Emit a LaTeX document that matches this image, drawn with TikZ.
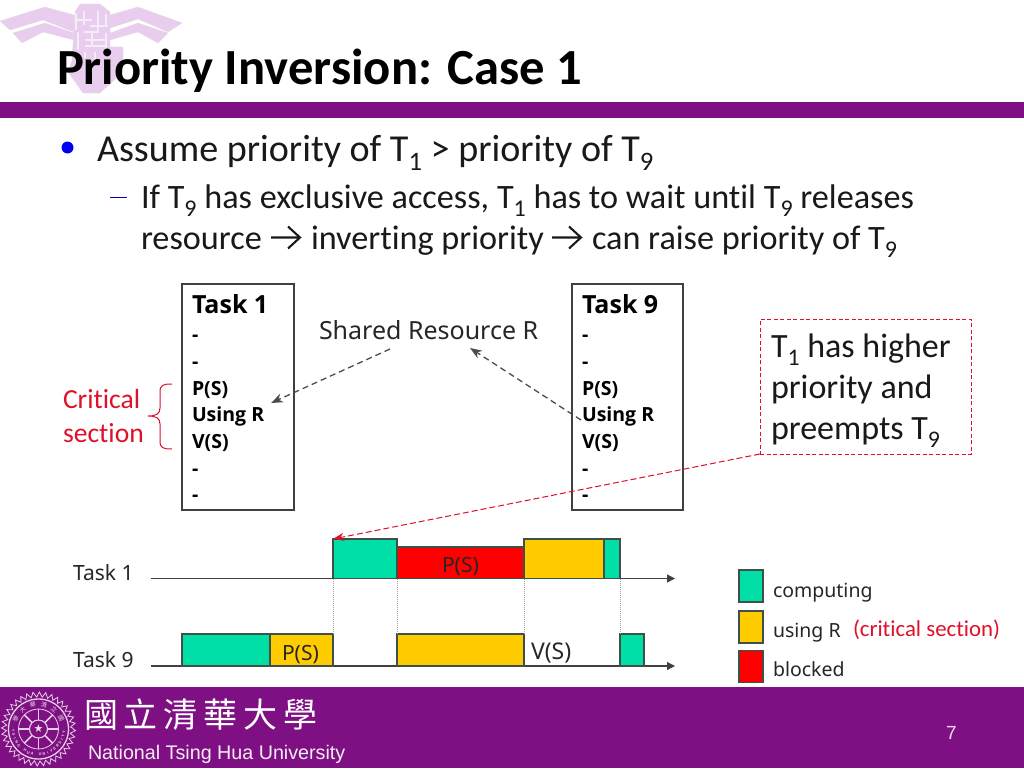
\documentclass[tikz,border=0pt]{standalone}
\usepackage{fontspec}
\setmainfont{Carlito}[Ligatures=NoCommon]
\newfontfamily\figfont{Noto Sans}
\newfontfamily\figbold{Open Sans}
\newfontfamily\arialfont{Liberation Sans}
\newfontfamily\cjkfont{Noto Sans CJK TC}
\newfontfamily\symfont{DejaVu Sans}
\usetikzlibrary{arrows.meta,decorations.pathmorphing}
\definecolor{nthu}{HTML}{7F1083}
\definecolor{logopink}{HTML}{E8CDEE}
\definecolor{compgreen}{HTML}{00E0A6}
\definecolor{useyellow}{HTML}{FFCC00}
\definecolor{blockred}{HTML}{FF0000}
\definecolor{edge}{HTML}{3F4F4A}
\definecolor{tipred}{HTML}{E0102A}
\newcommand{\sbs}[1]{\raisebox{-0.24em}{\scalebox{0.7}{#1}}}
\tikzset{
  x=1pt,y=-1pt,
  txt/.style={anchor=base west,inner sep=0,outer sep=0,text=black},
  titletext/.style={txt,font=\fontsize{50.6}{54}\selectfont\bfseries},
  lvlone/.style={txt,font=\fontsize{38.1}{40}\selectfont,text=black!90},
  lvltwo/.style={txt,font=\fontsize{34.2}{36}\selectfont,text=black!90},
  redtext/.style={txt,font=\fontsize{27.6}{30}\selectfont,text=tipred},
  tiptext/.style={txt,font=\fontsize{34}{36}\selectfont,text=black!90},
  codetext/.style={txt,font=\figbold\fontsize{19.5}{24}\selectfont\bfseries},
  figtext/.style={txt,font=\figfont\fontsize{21}{24}\selectfont,text=black!85},
  legendtext/.style={figtext,font=\figfont\fontsize{19.5}{24}\selectfont},
  taskbox/.style={draw=black!75,line width=1.4pt,fill=white,anchor=north west,inner sep=0,outer sep=0,minimum width=112,minimum height=226},
  blk/.style={draw=edge,line width=1.1pt,anchor=south west,inner sep=0,outer sep=0},
  grn/.style={blk,fill=compgreen},
  yel/.style={blk,fill=useyellow},
  rdd/.style={blk,fill=blockred},
  axisline/.style={draw=black!75,line width=1.2pt,-{Triangle[length=8pt,width=8pt]}},
  guide/.style={draw=black!35,line width=1pt,densely dotted},
  dasharrow/.style={draw=black!70,line width=1.3pt,dash pattern=on 6pt off 4pt,-{Stealth[length=12pt,width=9pt]}},
  reddash/.style={draw=tipred,line width=1pt,dash pattern=on 6pt off 3pt},
  thinarrow/.style={draw=black!90,line width=2.1pt},
  seal/.style={draw=white!80!nthu,line width=0.8pt},
  sealtext/.style={inner sep=0,outer sep=0,text=white!85!nthu},
}
\begin{document}
\begin{tikzpicture}
\useasboundingbox (0,0) rectangle (1024,768);
\fill[white] (0,0) rectangle (1024,768);
% logo
\fill[logopink,draw=black!12,line width=.3pt]
 (0,21) -- (45,7) -- (74,15) -- (74,32) -- (43,20) -- (10,30) -- cycle
 (13,33) -- (45,23) -- (74,33) -- (74,40) -- (43,32) -- (22,43) -- cycle
 (110,15) -- (138,7) -- (182,23) -- (168,32) -- (138,19) -- (110,28) -- cycle
 (110,33) -- (138,23) -- (168,33) -- (158,43) -- (138,32) -- (110,40) -- cycle
 (75,12) -- (80,4) -- (100,4) -- (110,12) -- (110,47) -- (123,47) -- (123,72) -- (100,93) -- (83,93) -- (68,72) -- (72,60) -- cycle;
\draw[white!60!logopink,line width=2.4pt]
 (76,13) -- (76,30) (84,11) -- (84,25) (76,20) -- (92,20) (98,11) -- (98,32) -- (84,32)
 (106,14) -- (106,26) (90,26) -- (108,26)
 (78,32) -- (78,50) (85,40) -- (106,40) (92,32) -- (92,46) (85,46) -- (106,46) (106,33) -- (106,54)
 (85,52) -- (85,58) (95,52) -- (95,60);
% title bar and footer
\fill[nthu] (0,102) rectangle (1024,118);
\fill[nthu] (0,687) rectangle (1024,768);
\node[titletext] (title) at (57,84) {Priority Inversion: Case 1};
% bullets
\node[circle,fill=blue!95!black,inner sep=0,minimum size=12,outer sep=0] (bul) at (67.5,147.5) {};
\node[lvlone] (l1) at (97,161) {Assume priority of T\sbs{1} > priority of T\sbs{9}};
\coordinate (da) at (110,197.5);
\coordinate (db) at (127,197.5);
\draw[blue!70!black,line width=1.3pt] (da) -- (db);
\node[lvltwo] (l2) at (141,208) {If T\sbs{9} has exclusive access, T\sbs{1} has to wait until T\sbs{9} releases};
\node[lvltwo] (l3a) at (141,249) {resource};
\node[lvltwo] (l3b) at (311,249) {inverting priority};
\node[lvltwo] (l3c) at (592,249) {can raise priority of T\sbs{9}};
% inline arrows
\draw[thinarrow] (271,237.5) -- (300,237.5) (288,226.5) -- (300,237.5) -- (288,248.5);
\draw[thinarrow] (552,237.5) -- (581,237.5) (569,226.5) -- (581,237.5) -- (569,248.5);
% task boxes
\node[taskbox] (boxa) at (182,284) {};
\node[taskbox,minimum width=111] (boxb) at (572,284) {};
\foreach \nm/\bx in {a/192,b/582}{
  \node[codetext] (dash1\nm) at (\bx,341) {-};
  \node[codetext] (dash2\nm) at (\bx,368) {-};
  \node[codetext] (ps\nm) at (\bx,395) {P(S)};
  \node[codetext] (use\nm) at (\bx,421) {Using R};
  \node[codetext] (vs\nm) at (\bx,448) {V(S)};
  \node[codetext] (dash3\nm) at (\bx,475) {-};
  \node[codetext] (dash4\nm) at (\bx,501) {-};
}
\node[codetext,font=\figbold\fontsize{25}{26}\selectfont\bfseries] (ta) at (192,313) {Task 1};
\node[codetext,font=\figbold\fontsize{25}{26}\selectfont\bfseries] (tb) at (582,313) {Task 9};
\node[figtext,font=\figfont\fontsize{25}{26}\selectfont] (shared) at (319,339) {Shared Resource R};
\coordinate (sa) at (390,349);
\coordinate (sb) at (581,420);
\coordinate (sta) at (271,403);
\coordinate (stb) at (470,348);
\draw[dasharrow] (sa) -- (sta);
\draw[dasharrow] (sb) -- (stb);
% critical section
\node[redtext] (crit) at (63,408) {Critical};
\node[redtext] (sect) at (63,442) {section};
\draw[tipred,line width=1pt] (172,384) .. controls (163,384) and (160,385) .. (160,392) -- (160,408) .. controls (160,414) and (156,416) .. (148,416) .. controls (156,416) and (160,418) .. (160,424) -- (160,441) .. controls (160,448) and (163,449) .. (172,449);
% tip box
\node[draw=tipred,line width=1pt,dash pattern=on 4pt off 2.5pt,anchor=north west,inner sep=0,outer sep=0,minimum width=211,minimum height=135] (tip) at (760,319) {};
\node[tiptext] (tip1) at (771,357) {T\sbs{1} has higher};
\node[tiptext] (tip2) at (771,398) {priority and};
\node[tiptext] (tip3) at (771,439) {preempts T\sbs{9}};
% gantt
\coordinate (a0) at (151,578.5);
\coordinate (a1) at (675,578.5);
\coordinate (b0) at (151,666);
\coordinate (b1) at (675,666);
\draw[axisline] (a0) -- (a1);
\draw[axisline] (b0) -- (b1);
\node[figtext] (la) at (73,580) {Task 1};
\node[figtext] (lb) at (73,667) {Task 9};
\node[grn,minimum width=64,minimum height=39.5] (a1g) at (333,578.5) {};
\node[rdd,minimum width=127,minimum height=31.5] (a2r) at (397,578.5) {};
\node[yel,minimum width=80,minimum height=39.5] (a3y) at (524,578.5) {};
\node[grn,minimum width=16,minimum height=39.5] (a4g) at (604,578.5) {};
\node[grn,minimum width=88,minimum height=32] (b1g) at (182,666) {};
\node[yel,minimum width=63,minimum height=32] (b2y) at (270,666) {};
\node[yel,minimum width=127,minimum height=32] (b3y) at (397,666) {};
\node[grn,minimum width=24,minimum height=32] (b4g) at (620,666) {};
\node[figtext] (psr) at (442,572) {P(S)};
\node[figtext] (psy) at (282,660) {P(S)};
\node[figtext,font=\figfont\fontsize{23}{24}\selectfont] (vsb) at (531,659) {V(S)};
\draw[guide] (a1g.south west) -- (b2y.north east);
\draw[guide] (a1g.south east) -- (b3y.north west);
\draw[guide] (a3y.south west) -- (b3y.north east);
\draw[guide] (a4g.south east) -- (b4g.north west);
\draw[reddash,-{Stealth[length=11pt,width=8pt]}] (tip.south west) -- (a1g.north west);
% legend
\node[grn,minimum width=24,minimum height=32] (k1) at (739,602) {};
\node[yel,minimum width=24,minimum height=32] (k2) at (739,643) {};
\node[rdd,minimum width=24,minimum height=32] (k3) at (739,682.5) {};
\node[legendtext] (kt1) at (773,597) {computing};
\node[legendtext] (kt2) at (773,637) {using R};
\node[legendtext] (kt3) at (773,676) {blocked};
\node[redtext,font=\fontsize{22.8}{24}\selectfont] (kt4) at (853,636) {(critical section)};
% footer
\node[txt,font=\cjkfont\fontsize{34}{36}\selectfont,text=white] (cn) at (84,727) {國\hspace{6pt}立\hspace{6pt}清\hspace{6pt}華\hspace{6pt}大\hspace{6pt}學};
\node[txt,font=\arialfont\fontsize{19.7}{22}\selectfont,text=white!92!nthu] (en) at (88,759) {National Tsing Hua University};
\node[txt,font=\arialfont\fontsize{19}{20}\selectfont,text=white!85!nthu] (pg) at (946,739) {7};
% seal
\begin{scope}[shift={(38.5,729)}]
\draw[seal,decorate,decoration={zigzag,segment length=6pt,amplitude=2.5pt}] (0,0) circle[radius=34.5];
\draw[seal,line width=1.3pt] (0,0) circle[radius=30];
\draw[seal] (0,0) circle[radius=20];
\draw[seal,line width=1.1pt] (0,0) circle[radius=9];
\foreach \a in {0,45,...,315}{ \draw[seal,line width=1.5pt] (\a:9) -- (\a:20); }
\node[sealtext,font=\symfont\fontsize{11}{11}\selectfont] (star) at (0,0) {★};
\foreach \ch [count=\i] in {T,S,I,N,G,{},H,U,A,{},U,N,I,V,E,R,S,I,T,Y}{
  \pgfmathsetmacro{\ang}{176-(\i-1)*8.95}
  \pgfmathsetmacro{\rot}{90-\ang}
  \node[sealtext,font=\arialfont\bfseries\fontsize{3.8}{4}\selectfont,rotate=\rot] at (\ang:25.5) {\ch};
}
\foreach \ch [count=\i] in {學,大,華,清,立,國}{
  \pgfmathsetmacro{\ang}{205+(\i-1)*26}
  \pgfmathsetmacro{\rot}{270-\ang}
  \node[sealtext,font=\cjkfont\fontsize{6}{6}\selectfont,rotate=\rot] at (\ang:25) {\ch};
}
\end{scope}
\end{tikzpicture}
\end{document}
